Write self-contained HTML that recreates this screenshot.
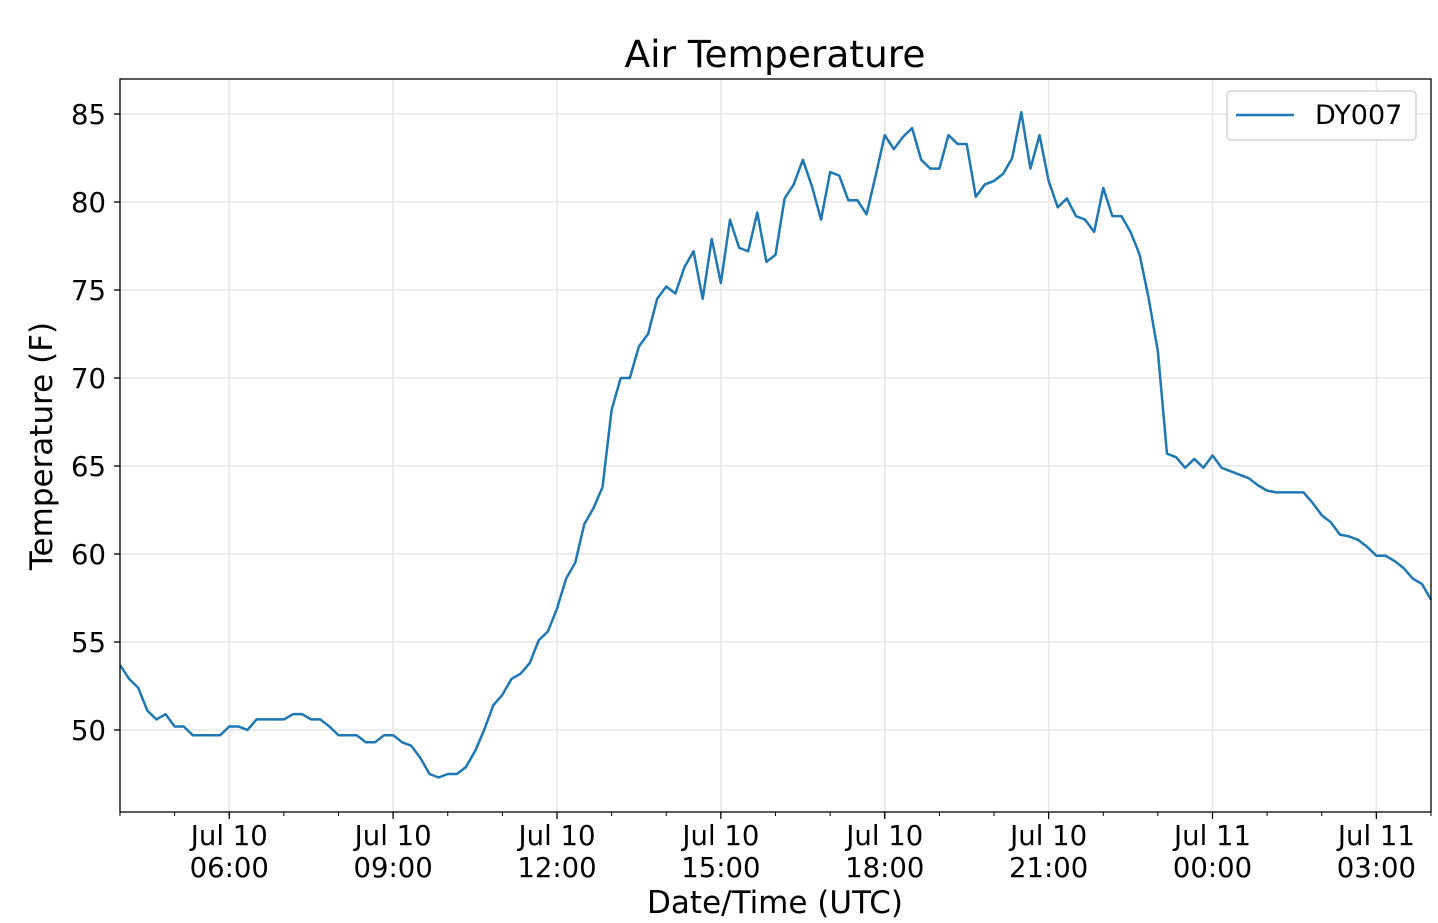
<!DOCTYPE html>
<html><head><meta charset="utf-8"><style>
body{margin:0;background:#fff;}
svg{display:block;font-family:"DejaVu Sans","Liberation Sans",sans-serif;}
</style></head><body>
<svg id="chart" width="1438" height="923" viewBox="0 0 1438 923" xmlns="http://www.w3.org/2000/svg">
<text x="775" y="67" font-size="37.5" text-anchor="middle" fill="#000">Air Temperature</text>
<g id="grid"></g>
<g id="axes"></g>
<path id="line" fill="none" stroke="#1f77b4" stroke-width="2.5" stroke-linejoin="round"/>
<rect x="120" y="79" width="1311" height="733" fill="none" stroke="#000" stroke-width="1.3"/>
<text transform="translate(52,446) rotate(-90)" font-size="31" text-anchor="middle">Temperature (F)</text>
<text x="775" y="913" font-size="31" text-anchor="middle">Date/Time (UTC)</text>
<g>
<rect x="1227" y="91" width="189" height="49" rx="4" fill="#fff" stroke="#ccc" stroke-width="1.3"/>
<line x1="1236" y1="115" x2="1294" y2="115" stroke="#1f77b4" stroke-width="2.5"/>
<text x="1315" y="124" font-size="27">DY007</text>
</g>
</svg>
<script>
const values = [53.7,52.9,52.4,51.1,50.6,50.9,50.2,50.2,49.7,49.7,49.7,49.7,50.2,50.2,50.0,50.6,50.6,50.6,50.6,50.9,50.9,50.6,50.6,50.2,49.7,49.7,49.7,49.3,49.3,49.7,49.7,49.3,49.1,48.4,47.5,47.3,47.5,47.5,47.9,48.8,50.0,51.4,52.0,52.9,53.2,53.8,55.1,55.6,56.9,58.6,59.5,61.7,62.6,63.8,68.2,70.0,70.0,71.8,72.5,74.5,75.2,74.8,76.3,77.2,74.5,77.9,75.4,79.0,77.4,77.2,79.4,76.6,77.0,80.2,81.0,82.4,80.9,79.0,81.7,81.5,80.1,80.1,79.3,81.5,83.8,83.0,83.7,84.2,82.4,81.9,81.9,83.8,83.3,83.3,80.3,81.0,81.2,81.6,82.5,85.1,81.9,83.8,81.2,79.7,80.2,79.2,79.0,78.3,80.8,79.2,79.2,78.3,77.0,74.5,71.5,65.7,65.5,64.9,65.4,64.9,65.6,64.9,64.7,64.5,64.3,63.9,63.6,63.5,63.5,63.5,63.5,62.9,62.2,61.8,61.1,61.0,60.8,60.4,59.9,59.9,59.6,59.2,58.6,58.3,57.4];
const yTicks = [50,55,60,65,70,75,80,85];
const xTickHours = [2,5,8,11,14,17,20,23];
const xTickLine1 = ["Jul 10","Jul 10","Jul 10","Jul 10","Jul 10","Jul 10","Jul 11","Jul 11"];
const xTickLine2 = ["06:00","09:00","12:00","15:00","18:00","21:00","00:00","03:00"];

const L=120,R=1431,T=79,B=812;
const yMin=45.34,yMax=86.99, hours=24;
const sx=h=>L+(R-L)*h/hours;
const sy=v=>B-(B-T)*(v-yMin)/(yMax-yMin);
const NS="http://www.w3.org/2000/svg";
const grid=document.getElementById('grid'), axes=document.getElementById('axes');
function mk(tag,attrs,parent){const e=document.createElementNS(NS,tag);for(const k in attrs)e.setAttribute(k,attrs[k]);parent.appendChild(e);return e;}
yTicks.forEach(v=>{
  const y=sy(v);
  const g=mk('line',{x1:L,x2:R,y1:y,y2:y,stroke:'#e6e6e6','stroke-width':1.5},grid);
  
  
  const t=mk('line',{x1:L-6,x2:L,y1:y,y2:y,stroke:'#000','stroke-width':1.3},axes);
  
  
  const tx=mk('text',{x:L-14,y:y+10,'font-size':27.5,'text-anchor':'end'},axes);
  tx.textContent=v;
  
  
});
for(let h=0;h<=hours;h++){
  const x=sx(h);
  const m=mk('line',{x1:x,x2:x,y1:B,y2:B+4,stroke:'#000','stroke-width':1},axes);
  
  
}
xTickHours.forEach((h,i)=>{
  const x=sx(h);
  const g=mk('line',{x1:x,x2:x,y1:T,y2:B,stroke:'#e6e6e6','stroke-width':1.5},grid);
  
  
  const t=mk('line',{x1:x,x2:x,y1:B,y2:B+7,stroke:'#000','stroke-width':1.3},axes);
  
  
  const a=mk('text',{x:x,y:845,'font-size':27.5,'text-anchor':'middle'},axes);
  a.textContent=xTickLine1[i];
  
  
  const b=mk('text',{x:x,y:877,'font-size':27.5,'text-anchor':'middle'},axes);
  b.textContent=xTickLine2[i];
  
  
});
const step=hours/(values.length-1);
document.getElementById('line').setAttribute('d',values.map((v,i)=>(i?'L':'M')+sx(i*step).toFixed(2)+','+sy(v).toFixed(2)).join(''));
</script>
</body></html>
